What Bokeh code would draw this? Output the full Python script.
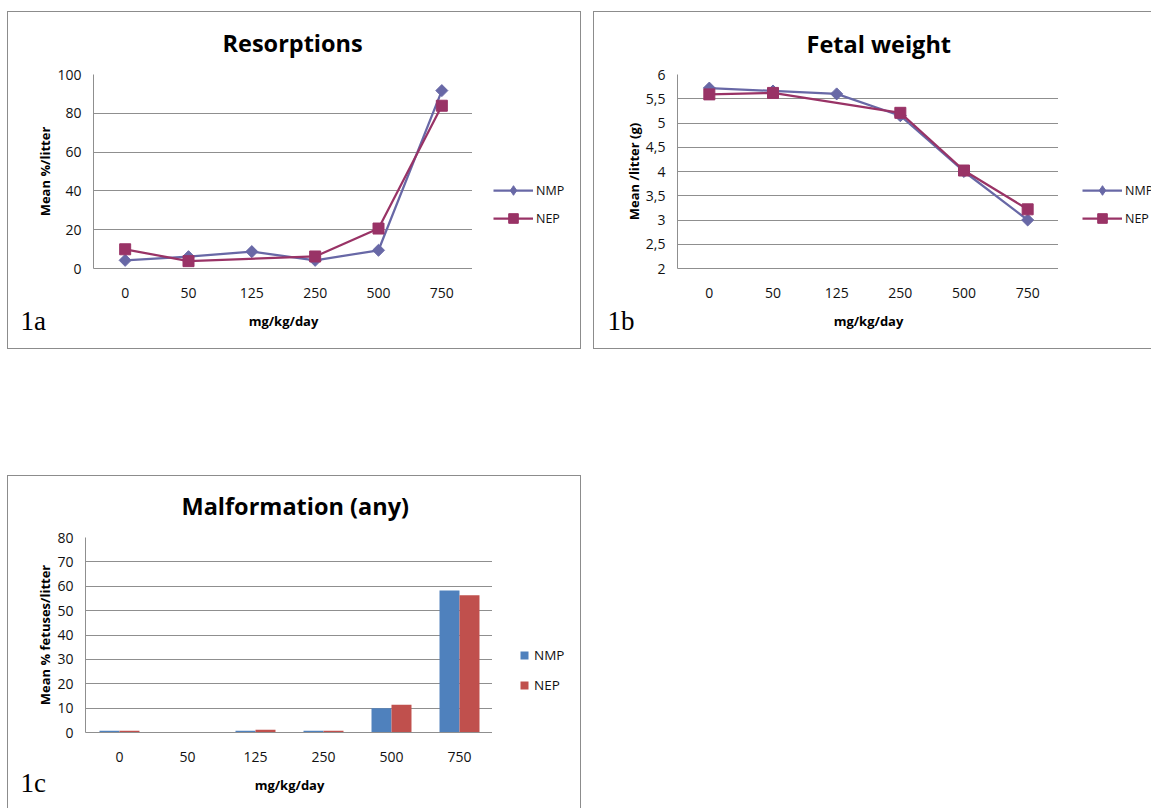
import numpy as np
from bokeh.plotting import figure
from bokeh.models import (FactorRange, Range1d, FixedTicker, Legend, LegendItem,
                          Label, Spacer)
from bokeh.layouts import row, column
from bokeh.transform import dodge
from bokeh.embed import file_html
from bokeh.resources import INLINE

# ---------------- data ----------------
doses = ["0", "50", "125", "250", "500", "750"]
series_names = ["NMP", "NEP"]

resorp_nmp = [4.2, 6.1, 8.7, 4.2, 9.4, 91.7]
resorp_nep = [9.9, 3.8, None, 6.2, 20.6, 83.9]
resorp_ticks = [0, 20, 40, 60, 80, 100]

weight_nmp = [5.72, 5.66, 5.60, 5.15, 4.00, 3.00]
weight_nep = [5.59, 5.62, None, 5.21, 4.02, 3.22]
weight_ticks = [2, 2.5, 3, 3.5, 4, 4.5, 5, 5.5, 6]
weight_tick_labels = ["2", "2,5", "3", "3,5", "4", "4,5", "5", "5,5", "6"]

malf_nmp = [0.7, 0.0, 0.7, 0.7, 9.9, 58.3]
malf_nep = [0.7, 0.0, 1.1, 0.7, 11.4, 56.3]
malf_ticks = [0, 10, 20, 30, 40, 50, 60, 70, 80]

# ---------------- style ----------------
SANS = "Open Sans"
GRID = "#8f8f8f"
BOX = "1px solid #8c8c8c"
LINE_COLORS = {"NMP": "#6868a6", "NEP": "#993366"}
BAR_COLORS = {"NMP": "#4f81bd", "NEP": "#c0504d"}


def border(*sides):
    return {"border-" + s: BOX for s in sides}


def present(vals):
    xs = [d for d, v in zip(doses, vals) if v is not None]
    ys = [v for v in vals if v is not None]
    return xs, ys


def base_figure(title, width, height, mb, y_range, ticks, title_offset, title_standoff):
    p = figure(x_range=FactorRange(*doses), y_range=y_range,
               width=width, height=height,
               min_border_left=mb[0], min_border_right=mb[1],
               min_border_top=mb[2], min_border_bottom=mb[3],
               output_backend="svg", toolbar_location=None, tools="")
    p.outline_line_color = None
    p.title.text = title
    p.title.text_font = SANS
    p.title.text_font_size = "23.5px"
    p.title.text_font_style = "bold"
    p.title.text_color = "#000000"
    p.title.align = "left"
    p.title.vertical_align = "top"
    p.title.offset = title_offset
    p.title.standoff = title_standoff
    p.xgrid.grid_line_color = None
    p.ygrid.grid_line_color = GRID
    p.ygrid.ticker = FixedTicker(ticks=ticks)
    p.yaxis.ticker = FixedTicker(ticks=ticks)
    for ax in (p.xaxis, p.yaxis):
        ax.axis_line_color = GRID
        ax.axis_line_width = 1
        ax.major_tick_line_color = None
        ax.minor_tick_line_color = None
        ax.major_tick_out = 0
        ax.major_tick_in = 0
        ax.minor_tick_out = 0
        ax.minor_tick_in = 0
        ax.major_label_text_font = SANS
        ax.major_label_text_font_size = "14px"
        ax.major_label_text_color = "#111111"
        ax.axis_label_text_font = SANS
        ax.axis_label_text_font_size = "13px"
        ax.axis_label_text_font_style = "bold"
        ax.axis_label_text_color = "#000000"
    p.xaxis.axis_label = "mg/kg/day"
    p.xaxis.major_label_standoff = 19
    p.xaxis.axis_label_standoff = 11
    p.yaxis.major_label_standoff = 12
    p.yaxis.axis_label_standoff = 0
    return p


def add_tag(p, text, x, y):
    # figure tag ("1a" ...) lives in the left side panel so it is not clipped
    p.add_layout(Label(x=x, y=y, x_units="screen", y_units="screen", text=text,
                       text_font="Liberation Serif", text_font_size="27px",
                       text_color="#000000", text_baseline="alphabetic"), "left")


def legend_figure(width, height, kind, series, loc, glyph_w, glyph_h, spacing,
                  standoff, font_size, styles):
    # a narrow figure that only carries the legend; its data lie outside its view
    lf = figure(width=width, height=height, x_range=FactorRange(*doses),
                y_range=Range1d(-3, -2), min_border=0,
                x_axis_location=None, y_axis_location=None,
                output_backend="svg", toolbar_location=None, tools="", title=None)
    lf.outline_line_color = None
    lf.grid.visible = False
    items = []
    for name, vals in zip(series_names, series):
        xs, ys = present(vals)
        if kind == "line":
            ln = lf.line(xs, ys, line_color=LINE_COLORS[name], line_width=2.25)
            sc = lf.scatter(xs, ys, marker="diamond" if name == "NMP" else "square",
                            fill_color=LINE_COLORS[name], line_color=LINE_COLORS[name])
            items.append(LegendItem(label=name, renderers=[ln, sc]))
        else:
            sq = lf.scatter(xs, ys, marker="square", fill_color=BAR_COLORS[name],
                            line_color=None)
            items.append(LegendItem(label=name, renderers=[sq]))
    leg = Legend(items=items, location=loc, glyph_width=glyph_w, glyph_height=glyph_h,
                 label_height=20, label_standoff=standoff, spacing=spacing,
                 padding=0, margin=0, border_line_color=None,
                 background_fill_alpha=0, label_text_font=SANS,
                 label_text_font_size=font_size, label_text_color="#111111")
    lf.add_layout(leg)
    lf.styles = styles
    return lf


def line_chart(title, width, height, mb, y_range, ticks, title_offset, title_standoff,
               nmp, nep):
    p = base_figure(title, width, height, mb, y_range, ticks, title_offset, title_standoff)
    for name, vals, size, ang in (("NMP", nmp, 8.5, np.pi / 4),
                                  ("NEP", nep, 11, 0.0)):
        xs, ys = present(vals)
        p.line(xs, ys, line_color=LINE_COLORS[name], line_width=2.25, line_join="round")
        p.scatter(xs, ys, marker="square", size=size, angle=ang,
                  fill_color=LINE_COLORS[name], line_color=LINE_COLORS[name])
    return p


# ---------------- 1a ----------------
pa = line_chart("Resorptions", 465, 338, (84, 0, 62, 82), Range1d(0, 100),
                resorp_ticks, 129, 28, resorp_nmp, resorp_nep)
pa.yaxis.axis_label = "Mean %/litter"
add_tag(pa, "1a", 12, -52)
pa.styles = border("top", "left", "bottom")
la = legend_figure(109, 338, "line", (resorp_nmp, resorp_nep), (21, 38), 40, 24, 4, 3,
                   "12.5px", border("top", "right", "bottom"))

# ---------------- 1b ----------------
pb = line_chart("Fetal weight", 465, 338, (80, 0, 60, 82), Range1d(2, 6),
                weight_ticks, 129, 26, weight_nmp, weight_nep)
pb.yaxis.axis_label = "Mean /litter (g)"
pb.yaxis.major_label_overrides = {t: s for t, s in zip(weight_ticks, weight_tick_labels)}
add_tag(pb, "1b", 13, -52)
pb.styles = border("top", "left", "bottom")
lb = legend_figure(93, 338, "line", (weight_nmp, weight_nep), (24, 38), 40, 24, 4, 3,
                   "12.5px", border("top", "bottom"))

# ---------------- 1c ----------------
pc = base_figure("Malformation (any)", 485, 333, (76, 0, 61, 77), Range1d(0, 80),
                 malf_ticks, 96, 27)
pc.yaxis.axis_label = "Mean % fetuses/litter"
src = {"dose": doses, "NMP": malf_nmp, "NEP": malf_nep}
pc.vbar(x=dodge("dose", -0.147, range=pc.x_range), top="NMP", width=0.294,
        source=src, fill_color=BAR_COLORS["NMP"], line_color=None)
pc.vbar(x=dodge("dose", 0.147, range=pc.x_range), top="NEP", width=0.294,
        source=src, fill_color=BAR_COLORS["NEP"], line_color=None)
add_tag(pc, "1c", 12, -50)
pc.styles = border("top", "left")
lc = legend_figure(89, 333, "bar", (malf_nmp, malf_nep), (22, 37), 20, 20, 10, 0,
                   "13.5px", border("top", "right"))

layout = column(Spacer(height=11),
                row(Spacer(width=7), pa, la, Spacer(width=12), pb, lb),
                Spacer(height=126),
                row(Spacer(width=7), pc, lc))

open("out.html", "w").write(file_html(layout, INLINE))
